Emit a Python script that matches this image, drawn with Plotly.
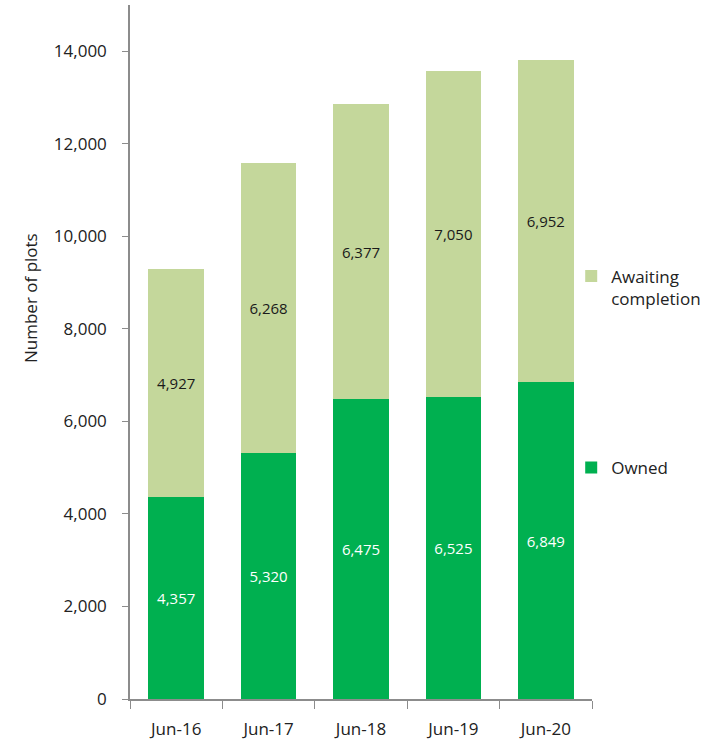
import plotly.graph_objects as go

categories = ["Jun-16", "Jun-17", "Jun-18", "Jun-19", "Jun-20"]
owned = [4357, 5320, 6475, 6525, 6849]
awaiting = [4927, 6268, 6377, 7050, 6952]
y_ticks = [0, 2000, 4000, 6000, 8000, 10000, 12000, 14000]

FONT = "Open Sans"
TXT = "#222222"
fig = go.Figure()
fig.add_trace(go.Bar(
    x=categories, y=owned, name="Owned",
    marker=dict(color="#00B050", line=dict(width=0)),
    text=[f"{v:,}" for v in owned], textposition="inside",
    insidetextanchor="middle", textangle=0,
    textfont=dict(color="white", size=15, family=FONT),
    legend="legend2",
))
fig.add_trace(go.Bar(
    x=categories, y=awaiting, name="Awaiting<br>completion",
    marker=dict(color="#C4D79B", line=dict(width=0)),
    text=[f"{v:,}" for v in awaiting], textposition="inside",
    insidetextanchor="middle", textangle=0,
    textfont=dict(color="#1a1a1a", size=15, family=FONT),
    legend="legend",
))

fig.update_layout(
    width=714, height=741,
    barmode="stack", bargap=0.4,
    plot_bgcolor="white", paper_bgcolor="white",
    margin=dict(l=130, r=122, t=5, b=42),
    font=dict(family=FONT, size=16, color=TXT),
    showlegend=True,
    legend=dict(x=0.955, y=0.593, xanchor="left", yanchor="middle",
                font=dict(size=17, family=FONT, color=TXT),
                bgcolor="rgba(0,0,0,0)", valign="top"),
    legend2=dict(x=0.955, y=0.333, xanchor="left", yanchor="middle",
                 font=dict(size=17, family=FONT, color=TXT),
                 bgcolor="rgba(0,0,0,0)"),
    xaxis=dict(
        showline=True, linecolor="#8c8c8c", linewidth=1.5,
        ticks="outside", tickson="boundaries", ticklen=8, tickcolor="#8c8c8c",
        tickfont=dict(size=17, family=FONT, color=TXT),
        ticklabelstandoff=14, automargin=False,
        showgrid=False,
    ),
    yaxis=dict(
        range=[0, 15000], tickvals=y_ticks,
        ticktext=[f"{v:,}" for v in y_ticks],
        showline=True, linecolor="#8c8c8c", linewidth=1.5,
        ticks="outside", ticklen=6, tickcolor="#8c8c8c",
        tickfont=dict(size=17, family=FONT, color=TXT),
        ticklabelstandoff=12, automargin=False,
        showgrid=False, zeroline=False,
    ),
    annotations=[dict(
        text="Number of plots", textangle=-90,
        xref="paper", yref="paper", x=(30 - 130) / 462, y=(699 - 298) / 694,
        showarrow=False, xanchor="center", yanchor="middle",
        font=dict(size=17, family=FONT, color=TXT),
    )],
)

fig.write_html("out.html")
